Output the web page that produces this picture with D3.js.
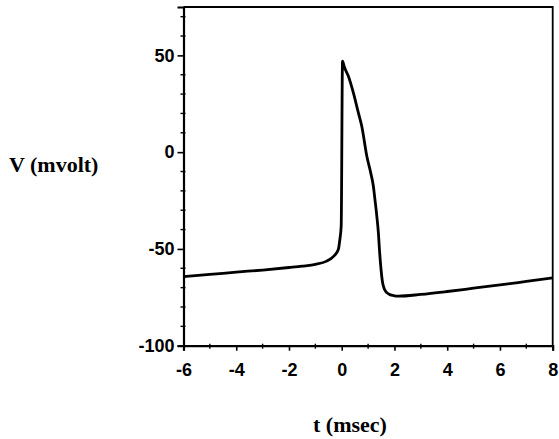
<!DOCTYPE html>
<html>
<head>
<meta charset="utf-8">
<script src="https://cdn.jsdelivr.net/npm/d3@7"></script>
<style>
  body { margin: 0; background: #fff; }
  svg { display: block; }
</style>
</head>
<body>
<div id="chart"></div>
<script>
// 1: DATA
const timeMs = [-6, -5, -4, -3, -2, -1.5, -1, -0.57, -0.32, -0.13, -0.07, -0.02, 0.03,
  0.1, 0.25, 0.44, 0.63, 0.76, 0.95, 1.1, 1.2, 1.26, 1.33, 1.39, 1.43, 1.48, 1.55,
  1.62, 1.71, 1.83, 1.96, 2.15, 3, 4, 5, 6, 7, 8];
const voltage = [-64.3, -63.2, -62, -60.9, -59.6, -58.9, -58, -56.3, -54, -50.3, -45, -38, 47,
  44, 39.3, 30.7, 20.4, 13.4, -2, -10.7, -17.6, -24.5, -33, -41.7, -50.3, -59, -67.5,
  -70.8, -72.6, -73.6, -74.1, -74.4, -73.5, -72, -70.3, -68.6, -66.8, -65];

const xTicks = [-6, -4, -2, 0, 2, 4, 6, 8];
const yTicks = [-100, -50, 0, 50];
const xMinor = [-5, -3, -1, 1, 3, 5, 7];
const yMinor = [-90, -80, -70, -60, -40, -30, -20, -10, 10, 20, 30, 40, 60, 70];

const W = 559, H = 439;
const plot = { left: 183.5, right: 552.7, top: 7, bottom: 345.7 };

const svg = d3.select("#chart").append("svg")
  .attr("width", W)
  .attr("height", H);

// 2: SCALES
const x = d3.scaleLinear().domain([-6, 8]).range([plot.left, plot.right]);
const y = d3.scaleLinear().domain([-100, 75]).range([plot.bottom, plot.top]);

// 3: FRAME (top and right are plain lines)
svg.append("path")
  .attr("d", `M${plot.left},${plot.top}H${plot.right}V${plot.bottom}`)
  .attr("fill", "none")
  .attr("stroke", "#000")
  .attr("stroke-width", 1.8);

// 4: AXES
const xAxis = svg.append("g")
  .attr("transform", `translate(0,${plot.bottom})`)
  .call(d3.axisBottom(x).tickValues(xTicks).tickSize(5).tickPadding(13)
    .tickFormat(d => d < 0 ? "-" + Math.abs(d) : d));

const yAxis = svg.append("g")
  .attr("transform", `translate(${plot.left},0)`)
  .call(d3.axisLeft(y).tickValues(yTicks).tickSize(6).tickPadding(3)
    .tickFormat(d => d < 0 ? "-" + Math.abs(d) : d));

[xAxis, yAxis].forEach(g => {
  g.select(".domain").attr("stroke-width", 2.2);
  g.selectAll(".tick line").attr("stroke-width", 1.6);
  g.selectAll("text")
    .attr("font-family", "'Liberation Sans', Arial, sans-serif")
    .attr("font-weight", "bold")
    .attr("font-size", 18)
    .attr("fill", "#000");
});

// minor ticks crossing the axis lines
svg.append("g").selectAll("line")
  .data(xMinor)
  .join("line")
  .attr("x1", d => x(d)).attr("x2", d => x(d))
  .attr("y1", plot.bottom - 2).attr("y2", plot.bottom + 3)
  .attr("stroke", "#000").attr("stroke-width", 1.4);

svg.append("g").selectAll("line")
  .data(yMinor)
  .join("line")
  .attr("x1", plot.left - 3).attr("x2", plot.left + 2)
  .attr("y1", d => y(d)).attr("y2", d => y(d))
  .attr("stroke", "#000").attr("stroke-width", 1.4);

// 5: THE ACTION POTENTIAL TRACE
const trace = timeMs.map((t, i) => ({ t: t, v: voltage[i] }));

svg.append("path")
  .datum(trace)
  .attr("fill", "none")
  .attr("stroke", "#000")
  .attr("stroke-width", 2.8)
  .attr("stroke-linejoin", "round")
  .attr("d", d3.line()
    .curve(d3.curveMonotoneX)
    .x(d => x(d.t))
    .y(d => y(d.v)));

// 6: AXIS TITLES
svg.append("text")
  .attr("x", 9)
  .attr("y", 172)
  .attr("font-family", "'Liberation Serif', 'Times New Roman', serif")
  .attr("font-weight", "bold")
  .attr("font-size", 22)
  .text("V (mvolt)");

svg.append("text")
  .attr("x", 313)
  .attr("y", 432)
  .attr("font-family", "'Liberation Serif', 'Times New Roman', serif")
  .attr("font-weight", "bold")
  .attr("font-size", 22)
  .text("t (msec)");
</script>
</body>
</html>
